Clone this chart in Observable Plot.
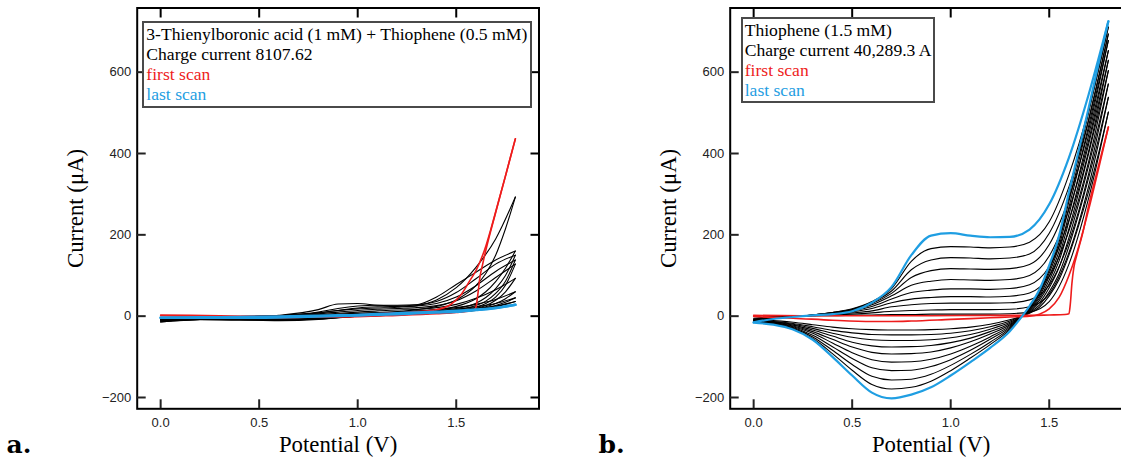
<!DOCTYPE html>
<html><head><meta charset="utf-8">
<script src="https://cdn.jsdelivr.net/npm/d3@7"></script>
<script src="https://cdn.jsdelivr.net/npm/@observablehq/plot@0.6"></script>
<style>
html,body{margin:0;padding:0;background:#fff;}
#wrap{position:relative;width:1121px;height:459px;overflow:hidden;background:#fff;}
.panel{position:absolute;top:0;}
.legend{position:absolute;box-sizing:border-box;border:2px solid #4a4a4a;background:#fff;font-family:"Liberation Serif","Times New Roman",serif;font-size:17.6px;line-height:20px;white-space:nowrap;color:#000;}
.tag{position:absolute;font-family:"DejaVu Serif",serif;font-weight:bold;font-size:25px;line-height:25px;color:#000;}
</style></head>
<body><div id="wrap"></div>
<script>
// ---------- shared axis ticks ----------
const xTicks = [0, 0.5, 1.0, 1.5];
const yTicks = [-200, 0, 200, 400, 600];

// ---------- panel b : Thiophene (1.5 mM) ----------
const B_FWD_V = [0,0.1,0.2,0.3,0.4,0.5,0.6,0.7,0.8,0.9,1.0,1.1,1.2,1.3,1.4,1.5,1.6,1.7,1.8];
const B_REV_V = [1.8,1.75,1.7,1.65,1.6,1.55,1.5,1.45,1.4,1.35,1.3,1.2,1.1,1.0,0.9,0.8,0.7,0.6,0.5,0.4,0.3,0.2,0.1,0];
// intermediate scans 2..10 (black), forward branch
const B_BLACK_FWD = [
  [-5,-1,0,1,1,2,3,4,4,5,5,5,5,6,10,36,128,290,502],
  [-7,-2,0,1,3,5,8,12,14,15,16,16,16,17,23,55,156,320,538],
  [-8,-3,0,1,4,8,13,23,28,31,32,32,32,33,40,76,183,350,571],
  [-9,-3,0,2,6,11,19,33,42,46,48,48,47,49,57,98,210,380,604],
  [-10,-4,-1,2,7,13,24,42,58,64,67,67,66,68,77,122,236,406,629],
  [-11,-4,-1,3,8,15,28,50,76,86,90,89,88,90,100,148,262,432,653],
  [-12,-5,-1,3,8,16,31,56,95,112,117,116,115,117,127,176,290,458,678],
  [-13,-5,-1,3,9,17,34,62,114,138,144,143,141,143,153,204,318,482,694],
  [-14,-6,-1,3,9,18,36,68,135,166,171,170,168,170,182,232,348,508,711]
];
// intermediate scans 2..10 (black), reverse branch
const B_BLACK_REV = [
  [502,400,307,224,150,90,50,22,7,-2,-9,-20,-27,-31,-33,-34,-34,-33,-31,-27,-21,-15,-11,-10],
  [538,436,340,252,172,105,60,27,9,-2,-12,-26,-36,-42,-45,-46,-46,-45,-41,-35,-26,-18,-13,-11],
  [571,468,370,278,193,120,70,33,11,-3,-15,-32,-45,-53,-58,-60,-60,-58,-52,-42,-30,-20,-14,-12],
  [604,500,400,305,215,136,80,39,13,-3,-18,-38,-54,-65,-72,-75,-76,-73,-64,-49,-34,-22,-15,-13],
  [629,524,423,326,233,148,89,44,15,-4,-21,-44,-63,-78,-88,-92,-93,-89,-76,-57,-38,-24,-16,-13],
  [653,548,445,346,250,160,98,49,17,-4,-24,-51,-74,-93,-106,-112,-113,-107,-90,-66,-42,-26,-17,-14],
  [678,572,468,366,268,172,106,54,19,-5,-27,-57,-84,-107,-124,-133,-134,-127,-104,-75,-47,-28,-18,-14],
  [694,588,483,381,282,182,113,58,21,-6,-30,-64,-94,-121,-143,-155,-157,-148,-119,-84,-51,-30,-19,-15],
  [711,606,500,397,296,192,120,62,23,-7,-33,-70,-103,-134,-160,-175,-179,-168,-133,-92,-55,-32,-20,-15]
];
const B_LAST_FWD = [-15,-7,-2,2,5,12,33,72,150,198,204,198,194,195,213,275,390,545,725];
const B_LAST_REV = [725,620,512,408,305,198,125,65,25,-8,-37,-78,-113,-146,-175,-193,-202,-188,-146,-100,-58,-33,-21,-16];
const B_FIRST_FWD_V = [0,0.3,0.6,0.9,1.2,1.4,1.5,1.58,1.6,1.607,1.615,1.625,1.64,1.67,1.7,1.75,1.8];
const B_FIRST_FWD   = [2,1,1,1,2,2,3,4,6,30,80,120,150,205,272,370,465];
const B_FIRST_REV_V = [1.8,1.75,1.7,1.65,1.6,1.55,1.5,1.45,1.4,1.3,1.2,1.0,0.8,0.7,0.6,0.4,0.2,0.1,0];
const B_FIRST_REV   = [465,362,262,172,100,46,18,5,0,-2,-4,-8,-12,-13,-13,-10,-5,-3,-1];

// ---------- panel a : 3-Thienylboronic acid + Thiophene ----------
const A_FWD_V = [0,0.2,0.4,0.6,0.8,0.9,1.0,1.1,1.2,1.3,1.4,1.5,1.6,1.7,1.8];
const A_REV_V = [1.8,1.75,1.7,1.65,1.6,1.5,1.4,1.3,1.2,1.0,0.8,0.6,0.4,0.2,0];
const A_BLACK_FWD = [
  [-14,-8,-4,0,8,14,18,20,22,26,40,70,120,190,293],
  [-12,-7,-3,2,16,30,31,27,25,28,47,78,108,138,160],
  [-10,-6,-3,1,10,19,25,27,27,28,36,58,92,128,150],
  [-9,-5,-2,1,8,14,20,23,24,25,31,47,75,110,138],
  [-8,-4,-2,1,6,10,14,17,19,21,26,38,62,95,128],
  [-7,-4,-2,1,4,7,10,13,15,17,21,29,44,65,93],
  [-6,-3,-1,1,3,5,7,9,11,13,16,21,29,41,60],
  [-5,-3,-1,1,3,4,6,8,10,12,14,17,23,31,45],
  [-4,-2,-1,1,2,3,5,7,9,10,12,15,19,25,36]
];
const A_BLACK_REV = [
  [293,215,150,105,75,40,24,16,11,3,-6,-10,-10,-9,-14],
  [160,118,85,60,43,24,16,11,7,1,-8,-11,-9,-8,-12],
  [150,100,68,46,32,19,13,9,6,0,-7,-9,-8,-7,-10],
  [138,86,56,37,26,16,11,8,5,0,-6,-8,-7,-6,-9],
  [128,76,47,31,22,14,10,7,4,0,-5,-7,-6,-5,-8],
  [93,60,39,26,19,12,9,6,4,0,-4,-6,-5,-5,-7],
  [60,43,31,23,17,11,8,6,4,0,-4,-5,-4,-4,-6],
  [45,34,26,20,15,10,8,6,3,0,-3,-4,-4,-3,-5],
  [36,29,23,18,14,10,7,5,3,0,-3,-3,-3,-3,-4]
];
const A_LAST_FWD = [-4,-3,-2,-1,1,2,3,5,7,9,11,13,16,20,28];
const A_LAST_REV = [28,24,20,17,15,11,9,7,5,2,-1,-3,-4,-4,-4];
const A_FIRST_FWD_V = [0,0.3,0.6,0.9,1.2,1.4,1.5,1.59,1.6,1.61,1.62,1.635,1.7,1.75,1.8];
const A_FIRST_FWD   = [3,1,-1,-2,2,6,9,16,22,55,95,130,255,345,436];
const A_FIRST_REV_V = [1.8,1.75,1.7,1.674,1.65,1.6,1.57,1.52,1.47,1.39,1.3,1.1,0.9,0.7,0.5,0.3,0.1,0];
const A_FIRST_REV   = [436,345,256,211,172,112,88,50,28,15,11,6,1,-3,-4,-2,0,1];

// ---------- texts ----------
const A_LEGEND = ["3-Thienylboronic acid (1 mM) + Thiophene (0.5 mM)", "Charge current 8107.62", "first scan", "last scan"];
const B_LEGEND = ["Thiophene (1.5 mM)", "Charge current 40,289.3 A", "first scan", "last scan"];
const X_TITLE = "Potential (V)";
const Y_TITLE = "Current (\u03bcA)";
const RED = "#ee1c1c", BLUE = "#1f9ee2";

function branch(key, Vs, Is) {
  return Vs.map((v, i) => ({V: v, I: Is[i], key})).sort((a, b) => a.V - b.V);
}

function makePanel(d) {
  const black = [];
  d.blackFwd.forEach((s, k) => black.push(...branch("f" + k, d.fwdV, s)));
  d.blackRev.forEach((s, k) => black.push(...branch("r" + k, d.revV, s)));
  const red = [...branch("f", d.firstFwdV, d.firstFwd), ...branch("r", d.firstRevV, d.firstRev)];
  const blue = [...branch("f", d.fwdV, d.lastFwd), ...branch("r", d.revV, d.lastRev)];
  const sans = "Liberation Sans, Arial, sans-serif";
  const serif = "Liberation Serif, Times New Roman, serif";
  return Plot.plot({
    width: 560, height: 459,
    marginLeft: 136.7, marginRight: 21.5, marginTop: 7.5, marginBottom: 50.7,
    x: {domain: [-0.119, 1.920]},
    y: {domain: [-227.8, 757.8]},
    style: {background: "transparent", color: "#000", overflow: "visible"},
    marks: [
      Plot.line(black, {x: "V", y: "I", z: "key", stroke: "#000", strokeWidth: 1.1, curve: "monotone-x"}),
      Plot.line(red, {x: "V", y: "I", z: "key", stroke: RED, strokeWidth: 1.6, curve: "monotone-x"}),
      Plot.line(blue, {x: "V", y: "I", z: "key", stroke: BLUE, strokeWidth: d.blueWidth, curve: "monotone-x"}),
      Plot.frame({stroke: "#000", strokeWidth: 2}),
      Plot.axisX(xTicks, {anchor: "bottom", tickSize: -9, tickPadding: 18, strokeWidth: 2, tickFormat: d3.format(".1f"), fontSize: 13, fontFamily: sans, label: null, color: "#222"}),
      Plot.axisX(xTicks, {anchor: "top", tickSize: -9, strokeWidth: 2, tickFormat: () => "", label: null}),
      Plot.axisY(yTicks, {anchor: "left", tickSize: -9, tickPadding: 15, strokeWidth: 2, tickFormat: d3.format("d"), fontSize: 13, fontFamily: sans, label: null, color: "#222"}),
      Plot.axisY(yTicks, {anchor: "right", tickSize: -9, strokeWidth: 2, tickFormat: () => "", label: null}),
      Plot.text([X_TITLE], {text: d => d, frameAnchor: "bottom", textAnchor: "middle", dy: 35.5, lineAnchor: "middle", fontSize: 22.8, fontFamily: serif, fill: "#000"}),
      Plot.text([Y_TITLE], {text: d => d, frameAnchor: "left", textAnchor: "middle", dx: -61, rotate: -90, lineAnchor: "middle", fontSize: 22.8, fontFamily: serif, fill: "#000"})
    ]
  });
}

const wrap = document.getElementById("wrap");
function place(node, left) {
  node.classList.add("panel");
  node.style.left = left + "px";
  wrap.appendChild(node);
}
place(makePanel({fwdV: A_FWD_V, revV: A_REV_V, blackFwd: A_BLACK_FWD, blackRev: A_BLACK_REV,
  lastFwd: A_LAST_FWD, lastRev: A_LAST_REV, firstFwdV: A_FIRST_FWD_V, firstFwd: A_FIRST_FWD,
  firstRevV: A_FIRST_REV_V, firstRev: A_FIRST_REV, blueWidth: 2.6}), 0);
place(makePanel({fwdV: B_FWD_V, revV: B_REV_V, blackFwd: B_BLACK_FWD, blackRev: B_BLACK_REV,
  lastFwd: B_LAST_FWD, lastRev: B_LAST_REV, firstFwdV: B_FIRST_FWD_V, firstFwd: B_FIRST_FWD,
  firstRevV: B_FIRST_REV_V, firstRev: B_FIRST_REV, blueWidth: 2.2}), 593);

function legend(lines, left, top, width, height) {
  const div = document.createElement("div");
  div.className = "legend";
  Object.assign(div.style, {left: left + "px", top: top + "px", width: width + "px", height: height + "px", padding: "1.2px 0 0 2px"});
  const colors = ["#000", "#000", RED, BLUE];
  lines.forEach((t, i) => {
    const s = document.createElement("div");
    s.textContent = t;
    s.style.color = colors[i];
    div.appendChild(s);
  });
  wrap.appendChild(div);
}
legend(A_LEGEND, 142.3, 21, 389.4, 86.7);
legend(B_LEGEND, 740.7, 17.3, 194, 86);

function tag(t, left) {
  const d = document.createElement("div");
  d.className = "tag";
  d.textContent = t;
  d.style.left = left + "px";
  d.style.top = "432.3px";
  wrap.appendChild(d);
}
tag("a.", 6.5);
tag("b.", 598.5);
</script></body></html>
